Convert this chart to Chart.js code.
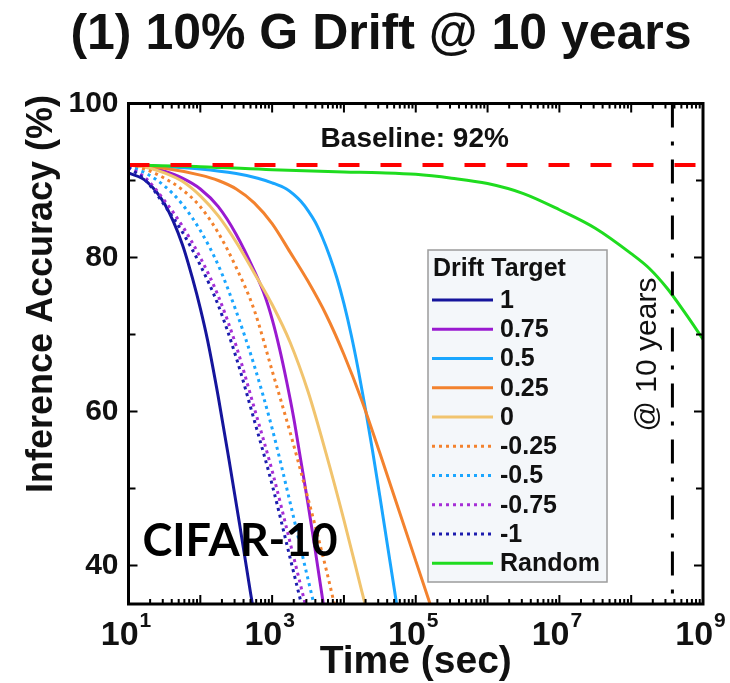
<!DOCTYPE html>
<html>
<head>
<meta charset="utf-8">
<script src="https://cdn.jsdelivr.net/npm/chart.js@4.4.1/dist/chart.umd.min.js"></script>
<style>
  html, body { margin: 0; padding: 0; background: #fff; }
  #wrap { width: 730px; height: 683px; }
</style>
</head>
<body>
<div id="wrap"><canvas id="driftChart" width="730" height="683"></canvas></div>
<script>
// values: log10(time / sec) -> inference accuracy (%)
const expP100 = [1, 1.25, 1.5, 1.75, 1.9, 2.0, 2.1, 2.25, 2.4, 2.55, 2.7, 2.8];
const accP100 = [91.0, 89.9, 87.0, 81.7, 77.0, 73.4, 69.3, 61.9, 53.7, 45.2, 36.4, 30.8];

const expP075 = [1, 1.25, 1.5, 1.75, 2.0, 2.25, 2.5, 2.75, 2.9, 3.0, 3.1, 3.2, 3.3, 3.4, 3.5, 3.6, 3.7, 3.8];
const accP075 = [92.0, 91.8, 91.2, 90.3, 88.9, 86.6, 83.0, 78.3, 75.0, 72.0, 68.3, 64.0, 59.2, 53.6, 48.0, 42.0, 35.8, 29.5];

const expP050 = [1, 1.5, 2, 2.5, 2.8, 3.0, 3.2, 3.3, 3.4, 3.5, 3.6, 3.7, 3.8, 3.9, 4.0, 4.1, 4.2, 4.3, 4.4, 4.5, 4.6, 4.7, 4.8];
const accP050 = [92.0, 91.8, 91.5, 90.9, 90.3, 89.7, 88.9, 88.2, 87.3, 86.1, 84.6, 82.6, 80.2, 77.4, 74.0, 70.0, 65.4, 60.3, 54.8, 49.0, 43.0, 37.0, 31.0];

const expP025 = [1, 1.5, 2, 2.25, 2.5, 2.75, 3, 3.25, 3.5, 3.75, 4, 4.25, 4.5, 4.75, 5, 5.25];
const accP025 = [92.0, 91.6, 90.7, 90.0, 88.9, 87.1, 84.4, 80.7, 76.9, 72.6, 67.4, 61.4, 54.6, 47.6, 40.6, 33.6];

const expZero = [1, 1.25, 1.5, 1.75, 2, 2.25, 2.5, 2.75, 3, 3.25, 3.5, 3.75, 4, 4.25, 4.5];
const accZero = [92.0, 91.7, 91.0, 89.9, 88.0, 85.4, 82.0, 78.0, 73.9, 69.0, 62.6, 54.6, 45.9, 36.6, 27.5];

const expM025 = [1, 1.25, 1.5, 1.75, 2, 2.25, 2.5, 2.75, 3, 3.25, 3.5, 3.75, 4];
const accM025 = [92.0, 91.4, 90.3, 88.8, 86.6, 83.2, 78.7, 73.2, 65.3, 57.3, 48.7, 39.6, 29.5];

const expM050 = [1, 1.25, 1.5, 1.75, 2, 2.25, 2.5, 2.75, 3, 3.25, 3.5, 3.75];
const accM050 = [91.9, 90.9, 89.3, 86.9, 83.5, 79.0, 73.0, 66.0, 57.8, 48.2, 38.2, 28.5];

const expM075 = [1, 1.25, 1.5, 1.75, 2, 2.25, 2.5, 2.75, 3, 3.25, 3.5];
const accM075 = [91.8, 90.2, 87.4, 84.1, 80.0, 75.0, 68.5, 60.5, 52.3, 43.0, 33.5];

const expM100 = [1, 1.25, 1.5, 1.75, 2, 2.25, 2.5, 2.75, 3, 3.25, 3.5];
const accM100 = [91.7, 89.9, 86.8, 83.3, 79.0, 73.8, 67.0, 58.9, 50.5, 41.0, 31.5];

const expRandom = [1, 2, 3, 4, 4.5, 5, 5.5, 6, 6.5, 7, 7.5, 8, 8.25, 8.5, 8.75, 9];
const accRandom = [92.0, 91.8, 91.4, 91.1, 91.0, 90.8, 90.3, 89.6, 88.3, 86.2, 83.8, 80.5, 78.6, 76.0, 72.8, 69.4];

const baselineAcc = 92;
const tenYearsSec = 3.75e8;
const yTicks = [40, 60, 80, 100];
const yMinorTicks = [50, 70, 90];
const xLabelExps = [1, 3, 5, 7, 9];

const FONT = "'Liberation Sans', Arial, sans-serif";

function pts(exps, accs) {
    return exps.map((e, i) => ({ x: Math.pow(10, e), y: accs[i] }));
}

// legend order as in the figure
const series = [
    { label: '1',      data: pts(expP100, accP100),     color: '#15159c', dotted: false },
    { label: '0.75',   data: pts(expP075, accP075),     color: '#9a1ad0', dotted: false },
    { label: '0.5',    data: pts(expP050, accP050),     color: '#1aa6ff', dotted: false },
    { label: '0.25',   data: pts(expP025, accP025),     color: '#f3822e', dotted: false },
    { label: '0',      data: pts(expZero, accZero),     color: '#f1c46e', dotted: false },
    { label: '-0.25',  data: pts(expM025, accM025),     color: '#f3822e', dotted: true },
    { label: '-0.5',   data: pts(expM050, accM050),     color: '#1aa6ff', dotted: true },
    { label: '-0.75',  data: pts(expM075, accM075),     color: '#a52ed6', dotted: true },
    { label: '-1',     data: pts(expM100, accM100),     color: '#1c1cae', dotted: true },
    { label: 'Random', data: pts(expRandom, accRandom), color: '#1fdc1f', dotted: false }
];

const datasets = series.map((s, i) => ({
    label: s.label,
    data: s.data,
    borderColor: s.color,
    borderWidth: 3,
    borderDash: s.dotted ? [3, 4] : [],
    borderCapStyle: 'butt',
    cubicInterpolationMode: 'monotone',
    pointRadius: 0,
    fill: false,
    clip: 0,
    order: 10 + (series.length - i)
}));

// baseline and "10 years" marker lines
datasets.push({
    label: 'baseline',
    data: [{ x: 10, y: baselineAcc }, { x: 1e9, y: baselineAcc }],
    borderColor: '#ff0000',
    borderWidth: 4,
    borderDash: [21, 21],
    borderCapStyle: 'butt',
    pointRadius: 0,
    clip: 0,
    order: 1
});
datasets.push({
    label: 'tenYears',
    data: [{ x: tenYearsSec, y: 100 }, { x: tenYearsSec, y: 35 }],
    borderColor: '#000',
    borderWidth: 3,
    borderDash: [24, 14, 4, 14],
    borderCapStyle: 'butt',
    pointRadius: 0,
    clip: 0,
    order: 2
});

const framePlugin = {
    id: 'frame',
    afterDatasetsDraw(chart) {
        const { ctx, chartArea: a, scales: { x, y } } = chart;
        ctx.save();
        ctx.strokeStyle = '#000';
        ctx.lineWidth = 3;
        ctx.strokeRect(a.left, a.top, a.right - a.left, a.bottom - a.top);

        ctx.lineWidth = 2;
        ctx.beginPath();
        // y ticks, left and right, pointing inward
        yTicks.concat(yMinorTicks).forEach(v => {
            const py = y.getPixelForValue(v);
            const len = yTicks.includes(v) ? 9 : 7;
            ctx.moveTo(a.left, py); ctx.lineTo(a.left + len, py);
            ctx.moveTo(a.right, py); ctx.lineTo(a.right - len, py);
        });
        // x ticks, bottom and top
        for (let e = 1; e <= 9; e++) {
            const px = x.getPixelForValue(Math.pow(10, e));
            ctx.moveTo(px, a.bottom); ctx.lineTo(px, a.bottom - 9);
            ctx.moveTo(px, a.top); ctx.lineTo(px, a.top + 9);
            if (e < 9) {
                for (let m = 2; m <= 9; m++) {
                    const pm = x.getPixelForValue(m * Math.pow(10, e));
                    ctx.moveTo(pm, a.bottom); ctx.lineTo(pm, a.bottom - 5);
                    ctx.moveTo(pm, a.top); ctx.lineTo(pm, a.top + 5);
                }
            }
        }
        ctx.stroke();

        // x tick labels with superscript exponents
        ctx.fillStyle = '#111';
        ctx.textBaseline = 'alphabetic';
        ctx.textAlign = 'left';
        xLabelExps.forEach(e => {
            const px = x.getPixelForValue(Math.pow(10, e));
            ctx.font = 'bold 34px ' + FONT;
            const wBase = ctx.measureText('10').width;
            ctx.font = 'bold 21px ' + FONT;
            const wSup = ctx.measureText(String(e)).width;
            const start = px - (wBase + wSup) / 2 - 3;
            ctx.font = 'bold 34px ' + FONT;
            ctx.fillText('10', start, 645);
            ctx.font = 'bold 21px ' + FONT;
            ctx.fillText(String(e), start + wBase + 1, 627);
        });
        ctx.restore();
    },
    afterDraw(chart) {
        const { ctx, chartArea: a, scales: { x, y } } = chart;
        ctx.save();
        ctx.fillStyle = '#111';

        // title
        ctx.font = 'bold 50px ' + FONT;
        ctx.textAlign = 'center';
        ctx.textBaseline = 'middle';
        ctx.fillText('(1) 10% G Drift @ 10 years', 381, 35);

        // axis titles
        ctx.font = 'bold 39px ' + FONT;
        ctx.fillText('Time (sec)', (a.left + a.right) / 2, 662);

        ctx.save();
        ctx.translate(42, 294);
        ctx.rotate(-Math.PI / 2);
        ctx.font = 'bold 36px ' + FONT;
        ctx.fillText('Inference Accuracy (%)', 0, 0);
        ctx.restore();

        // baseline text
        ctx.font = 'bold 28px ' + FONT;
        ctx.fillText('Baseline: 92%', x.getPixelForValue(1e5) - 1, y.getPixelForValue(95.4));

        // "@ 10 years" rotated text beside the marker line
        ctx.save();
        ctx.translate(x.getPixelForValue(tenYearsSec) - 25, y.getPixelForValue(67.4));
        ctx.rotate(-Math.PI / 2);
        ctx.font = '30px ' + FONT;
        ctx.fillText('@ 10 years', 0, 0);
        ctx.restore();

        // dataset label
        ctx.textAlign = 'left';
        ctx.textBaseline = 'alphabetic';
        ctx.font = "bold 45px Lato, 'Liberation Sans', sans-serif";
        ctx.fillStyle = '#000';
        ctx.fillText('CIFAR-10', a.left + 14, 556);

        // legend box
        const lx = 428, ly = 250, lw = 179, lh = 332;
        ctx.fillStyle = '#f4f7fa';
        ctx.fillRect(lx, ly, lw, lh);
        ctx.strokeStyle = '#9c9c9c';
        ctx.lineWidth = 1.5;
        ctx.strokeRect(lx, ly, lw, lh);

        ctx.fillStyle = '#111';
        ctx.textBaseline = 'middle';
        ctx.font = 'bold 25px ' + FONT;
        ctx.fillText('Drift Target', lx + 5, ly + 19);

        series.forEach((s, i) => {
            const ry = 300 + i * 29.25;
            ctx.beginPath();
            ctx.strokeStyle = s.color;
            ctx.lineWidth = 3;
            ctx.setLineDash(s.dotted ? [3, 4] : []);
            ctx.moveTo(lx + 4, ry);
            ctx.lineTo(lx + 65, ry);
            ctx.stroke();
            ctx.setLineDash([]);
            ctx.fillStyle = '#111';
            ctx.fillText(s.label, lx + 72, ry + 1);
        });
        ctx.restore();
    }
};

const ctx = document.getElementById('driftChart').getContext('2d');
new Chart(ctx, {
    type: 'line',
    data: { datasets: datasets },
    options: {
        responsive: false,
        animation: false,
        devicePixelRatio: 1,
        layout: { padding: { left: 0, top: 103.5, right: 27, bottom: 0 } },
        plugins: {
            legend: { display: false },
            tooltip: { enabled: false },
            title: { display: false }
        },
        scales: {
            x: {
                type: 'logarithmic',
                min: 10,
                max: 1e9,
                grid: { display: false, drawTicks: false },
                border: { display: false },
                ticks: { display: false },
                afterFit: function (scale) { scale.height = 79; }
            },
            y: {
                min: 35,
                max: 100,
                grid: { display: false, drawTicks: false },
                border: { display: false },
                afterBuildTicks: function (scale) {
                    scale.ticks = yTicks.map(v => ({ value: v }));
                },
                afterFit: function (scale) { scale.width = 128.5; },
                ticks: {
                    color: '#111',
                    padding: 10,
                    font: { family: FONT, size: 30, weight: 'bold' }
                }
            }
        }
    },
    plugins: [framePlugin]
});
</script>
</body>
</html>
